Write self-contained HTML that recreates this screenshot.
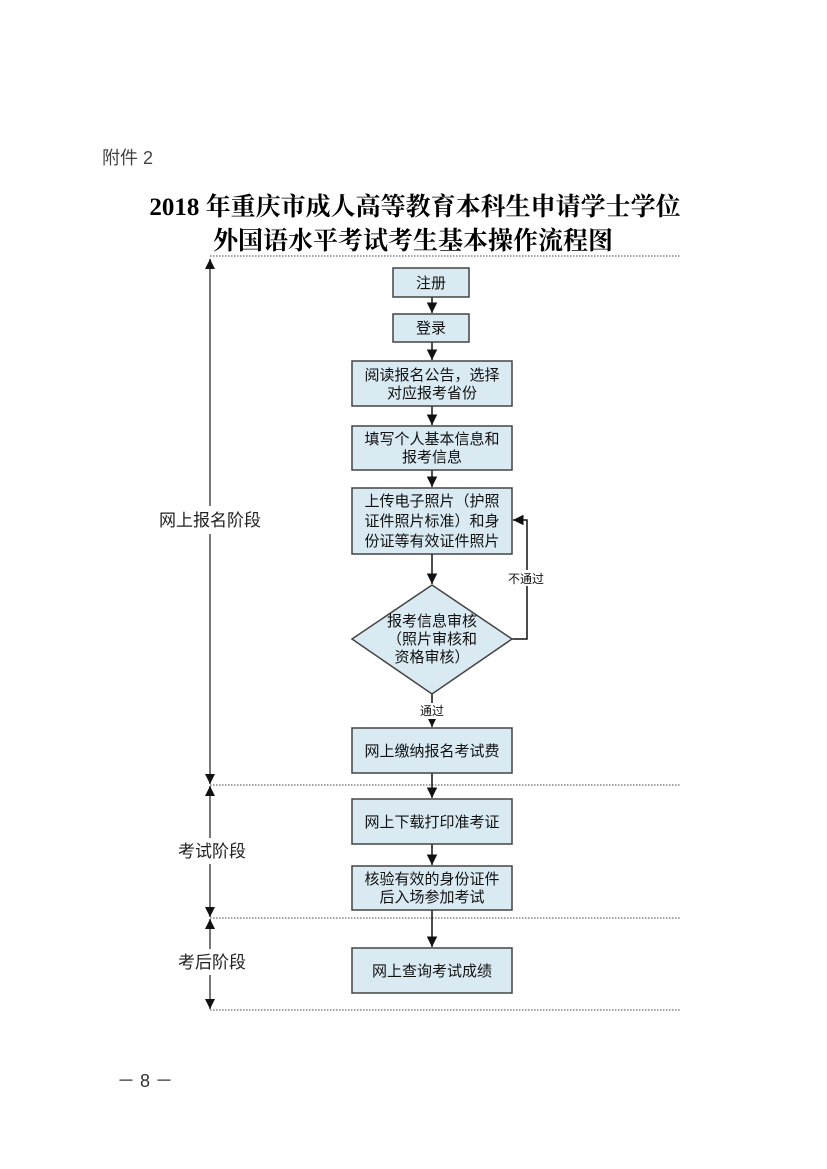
<!DOCTYPE html>
<html><head><meta charset="utf-8"><style>
body{margin:0;background:#fff}
svg{display:block}
.t{font-family:"Liberation Serif","Noto Serif CJK SC",serif;font-weight:bold;font-size:25px;fill:#000}
.b{font-family:"Liberation Sans","Noto Sans CJK SC",sans-serif;font-size:15px;fill:#111}
.s{font-family:"Liberation Sans","Noto Sans CJK SC",sans-serif;font-size:17px;fill:#222}
rect.n,polygon.n{fill:#d9eaf2;stroke:#444;stroke-width:1.5}
</style></head><body>
<svg width="827" height="1169" viewBox="0 0 827 1169" xmlns="http://www.w3.org/2000/svg">
<defs><marker id="a" viewBox="0 0 10 10" refX="10" refY="5" markerWidth="7" markerHeight="7" orient="auto-start-reverse"><path d="M0,0L10,5L0,10z" fill="#111"/></marker>
<marker id="g" viewBox="0 0 10 10" refX="10" refY="5" markerWidth="5" markerHeight="5" orient="auto-start-reverse"><path d="M0,0L10,5L0,10z" fill="#111"/></marker></defs>
<text x="102" y="164" class="s" style="font-size:18px;fill:#444">附件 2</text>
<text x="415" y="215" class="t" text-anchor="middle">2018 年重庆市成人高等教育本科生申请学士学位</text>
<text x="413" y="249" class="t" text-anchor="middle">外国语水平考试考生基本操作流程图</text>
<g stroke="#444" stroke-dasharray="1.5,1.5" stroke-width="1">
<line x1="210" y1="256" x2="680" y2="256"/><line x1="210" y1="785" x2="680" y2="785"/>
<line x1="210" y1="918" x2="680" y2="918"/><line x1="210" y1="1010" x2="680" y2="1010"/>
</g>
<g stroke="#777" stroke-width="2">
<line x1="210" y1="259" x2="210" y2="784" marker-start="url(#g)" marker-end="url(#g)"/>
<line x1="210" y1="786" x2="210" y2="917" marker-start="url(#g)" marker-end="url(#g)"/>
<line x1="210" y1="919" x2="210" y2="1009" marker-start="url(#g)" marker-end="url(#g)"/>
</g>
<rect x="150" y="506" width="120" height="28" fill="#fff"/>
<text x="210" y="526" class="s" text-anchor="middle">网上报名阶段</text>
<rect x="172" y="838" width="76" height="26" fill="#fff"/>
<text x="212" y="857" class="s" text-anchor="middle">考试阶段</text>
<rect x="172" y="949" width="76" height="26" fill="#fff"/>
<text x="212" y="968" class="s" text-anchor="middle">考后阶段</text>
<g stroke="#111" stroke-width="1.5" fill="none">
<line x1="432" y1="297" x2="432" y2="313" marker-end="url(#a)"/>
<line x1="432" y1="342" x2="432" y2="360" marker-end="url(#a)"/>
<line x1="432" y1="406" x2="432" y2="425" marker-end="url(#a)"/>
<line x1="432" y1="470" x2="432" y2="487" marker-end="url(#a)"/>
<line x1="432" y1="554" x2="432" y2="584" marker-end="url(#a)"/>
<line x1="432" y1="694" x2="432" y2="727" marker-end="url(#a)"/>
<line x1="432" y1="773" x2="432" y2="798" marker-end="url(#a)"/>
<line x1="432" y1="844" x2="432" y2="865" marker-end="url(#a)"/>
<line x1="432" y1="910" x2="432" y2="947" marker-end="url(#a)"/>
<polyline points="512,639 527,639 527,520 513,520" marker-end="url(#a)"/>
</g>
<rect class="n" x="393" y="268" width="76" height="29"/>
<text x="431" y="288" class="b" text-anchor="middle">注册</text>
<rect class="n" x="393" y="314" width="76" height="28"/>
<text x="431" y="333" class="b" text-anchor="middle">登录</text>
<rect class="n" x="352" y="361" width="160" height="45"/>
<text x="432" y="380" class="b" text-anchor="middle">阅读报名公告，选择</text>
<text x="432" y="398" class="b" text-anchor="middle">对应报考省份</text>
<rect class="n" x="352" y="426" width="160" height="44"/>
<text x="432" y="444" class="b" text-anchor="middle">填写个人基本信息和</text>
<text x="432" y="462" class="b" text-anchor="middle">报考信息</text>
<rect class="n" x="352" y="488" width="160" height="66"/>
<text x="432" y="506" class="b" text-anchor="middle">上传电子照片（护照</text>
<text x="432" y="526" class="b" text-anchor="middle">证件照片标准）和身</text>
<text x="432" y="546" class="b" text-anchor="middle">份证等有效证件照片</text>
<polygon class="n" points="432,585 512,639 432,694 352,639"/>
<text x="432" y="626" class="b" text-anchor="middle">报考信息审核</text>
<text x="432" y="644" class="b" text-anchor="middle">（照片审核和</text>
<text x="432" y="662" class="b" text-anchor="middle">资格审核）</text>
<rect x="505" y="570" width="42" height="16" fill="#fff"/>
<text x="526" y="583" class="b" style="font-size:12px" text-anchor="middle">不通过</text>
<rect x="418" y="703" width="28" height="16" fill="#fff"/>
<text x="432" y="715" class="b" style="font-size:12px" text-anchor="middle">通过</text>
<rect class="n" x="352" y="728" width="160" height="45"/>
<text x="432" y="756" class="b" text-anchor="middle">网上缴纳报名考试费</text>
<rect class="n" x="352" y="799" width="160" height="45"/>
<text x="432" y="827" class="b" text-anchor="middle">网上下载打印准考证</text>
<rect class="n" x="352" y="866" width="160" height="44"/>
<text x="432" y="884" class="b" text-anchor="middle">核验有效的身份证件</text>
<text x="432" y="902" class="b" text-anchor="middle">后入场参加考试</text>
<rect class="n" x="352" y="948" width="160" height="45"/>
<text x="432" y="976" class="b" text-anchor="middle">网上查询考试成绩</text>
<text x="145" y="1087" class="s" text-anchor="middle" style="font-size:18px;fill:#333">－ 8 －</text>
</svg>
</body></html>
